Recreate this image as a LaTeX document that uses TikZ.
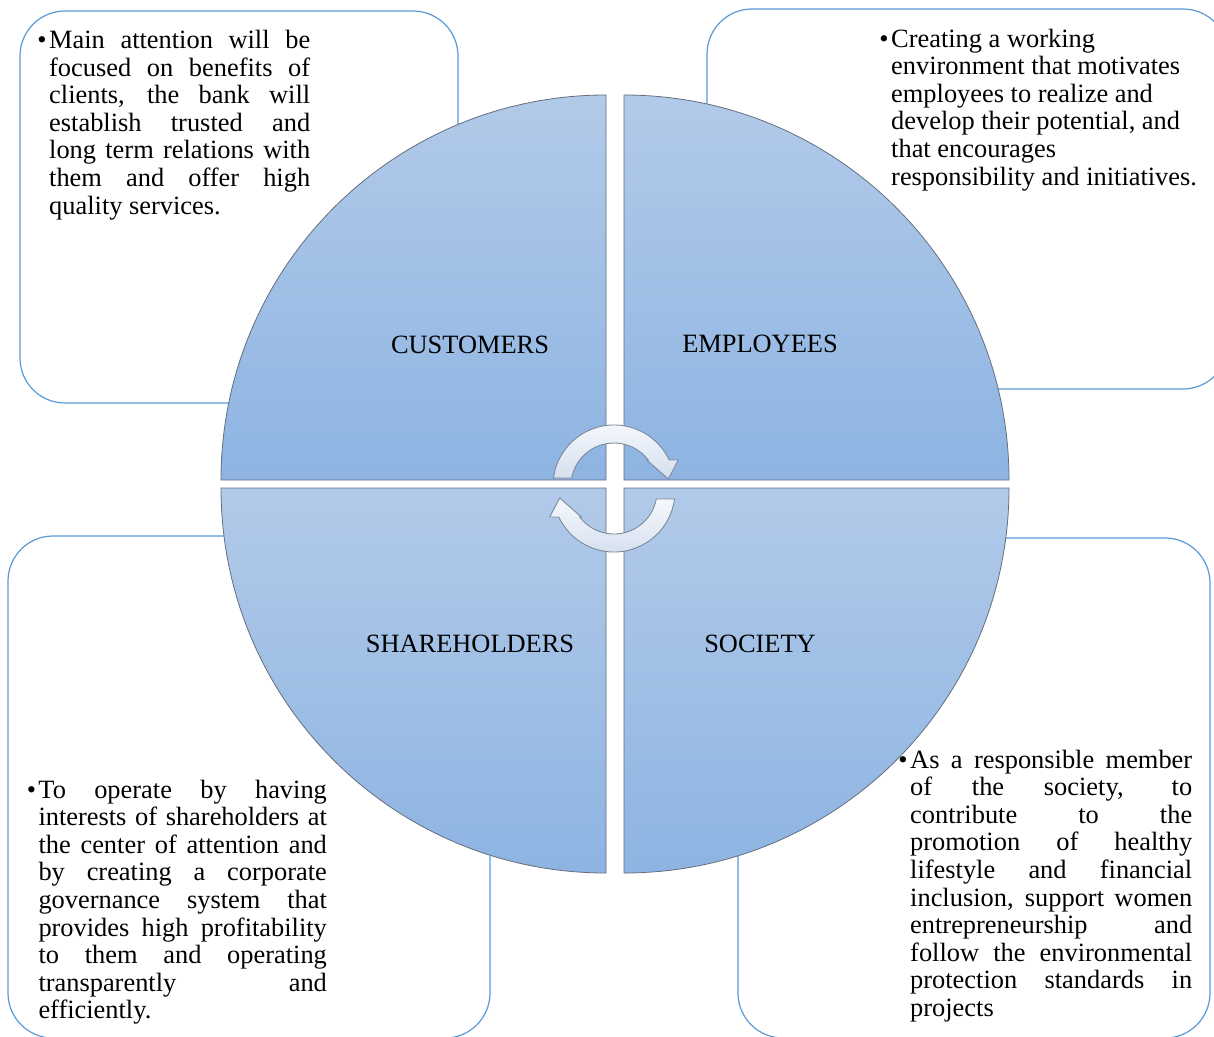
\documentclass[tikz,border=0pt]{standalone}
\usepackage{fontspec}
\setmainfont{Liberation Serif}
\definecolor{boxline}{RGB}{91,155,213}
\definecolor{qtop}{RGB}{178,202,233}
\definecolor{qbot}{RGB}{141,180,226}
\definecolor{qline}{RGB}{100,110,125}
\definecolor{atop}{RGB}{246,249,253}
\definecolor{abot}{RGB}{212,223,238}
\definecolor{aline}{RGB}{125,137,153}
\newcommand{\jl}[1]{\makebox[\linewidth][s]{#1}\\}
\newcommand{\bul}{\leavevmode\llap{\char"2022\hspace{2.5pt}}}
\begin{document}
\begin{tikzpicture}[x=1pt,y=-1pt,
  box/.style={draw=boxline, line width=1.2pt, fill=white, rounded corners=45pt},
  quad/.style={draw=qline, line width=0.8pt, top color=qtop, bottom color=qbot},
  cyc/.style={draw=aline, line width=0.9pt, top color=atop, bottom color=abot},
  lab/.style={font=\fontsize{26.4}{27.6}\selectfont, inner sep=0pt, anchor=base},
  body/.style={font=\fontsize{26.4}{27.6}\selectfont, inner sep=0pt, anchor=base west}]
\useasboundingbox (0,0) rectangle (1214,1036);
\clip (0,0) rectangle (1214,1036);
\fill[white] (0,0) rectangle (1214,1036);
% boxes
\draw[box] (20,11) rectangle (458,403);
\draw[box] (707,9) rectangle (1228,389);
\draw[box] (8,536) rectangle (490,1038);
\draw[box] (738,538) rectangle (1210,1038);
% quadrants
\path[quad] (606,480) -- (221,480) arc[start angle=180, end angle=270, radius=385] -- cycle;
\path[quad] (624,480) -- (624,95) arc[start angle=270, end angle=360, radius=385] -- cycle;
\path[quad] (606,488) -- (606,873) arc[start angle=90, end angle=180, radius=385] -- cycle;
\path[quad] (624,488) -- (1009,488) arc[start angle=0, end angle=90, radius=385] -- cycle;
% cycle arrows
\path[cyc] (553.5,478) arc[start angle=187.5, end angle=334.8, radius=61]
  -- (678.3,460) -- (668.3,479) -- (646.7,460) -- (648.2,460)
  arc[start angle=322.8, end angle=190.7, radius=43] -- cycle;
\begin{scope}[rotate around={180:(614,488.5)}]
\path[cyc] (553.5,478) arc[start angle=187.5, end angle=334.8, radius=61]
  -- (678.3,460) -- (668.3,479) -- (646.7,460) -- (648.2,460)
  arc[start angle=322.8, end angle=190.7, radius=43] -- cycle;
\end{scope}
% labels
\node[lab] (cust) at (470,353) {CUSTOMERS};
\node[lab] (empl) at (760,352.5) {EMPLOYEES};
\node[lab] (shar) at (470,652) {SHAREHOLDERS};
\node[lab] (soc) at (760,652) {SOCIETY};
% texts
\node[body] (tltext) at (49,48.5) {\parbox[t]{261pt}{%
\bul\jl{Main attention will be}
\jl{focused on benefits of}
\jl{clients, the bank will}
\jl{establish trusted and}
\jl{long term relations with}
\jl{them and offer high}
quality services.}};
\node[body] (trtext) at (891,47) {\parbox[t]{320pt}{%
\bul Creating a working\\
environment that motivates\\
employees to realize and\\
develop their potential, and\\
that encourages\\
responsibility and initiatives.}};
\node[body] (bltext) at (38.3,798) {\parbox[t]{288.4pt}{%
\bul\jl{To operate by having}
\jl{interests of shareholders at}
\jl{the center of attention and}
\jl{by creating a corporate}
\jl{governance system that}
\jl{provides high profitability}
\jl{to them and operating}
\jl{transparently and}
efficiently.}};
\node[body] (brtext) at (910,768) {\parbox[t]{282pt}{%
\bul\jl{As a responsible member}
\jl{of the society, to}
\jl{contribute to the}
\jl{promotion of healthy}
\jl{lifestyle and financial}
\jl{inclusion, support women}
\jl{entrepreneurship and}
\jl{follow the environmental}
\jl{protection standards in}
projects}};
\end{tikzpicture}
\end{document}
